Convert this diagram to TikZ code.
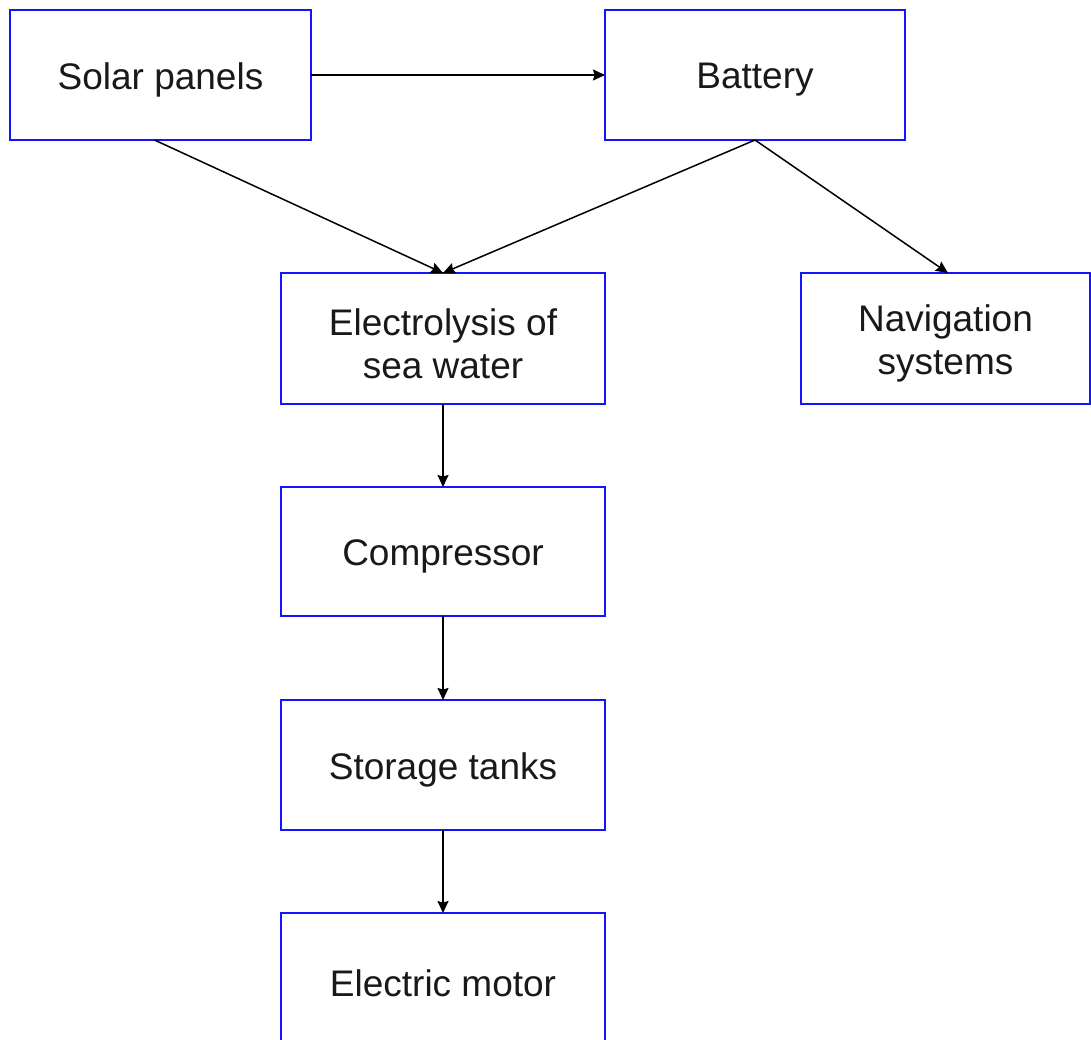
\documentclass[tikz,border=0pt]{standalone}
\usepackage{fontspec}
\setmainfont{Liberation Sans}
\usetikzlibrary{arrows.meta}
\definecolor{boxblue}{RGB}{20,20,255}
\begin{document}
\begin{tikzpicture}[x=1pt,y=-1pt,
  box/.style={draw=boxblue,line width=2pt,fill=white,inner sep=0pt,outer sep=0pt},
  txt/.style={align=center,font=\fontsize{37}{43}\selectfont,text=black!90,yshift=-5pt},
  conn/.style={line width=1.5pt,-{Stealth[length=12pt,width=11pt,inset=1.5pt]}}]
\useasboundingbox (0,0) rectangle (1091,1039);
\begin{scope}
\clip (0,0) rectangle (1091,1039);
\node[box,minimum width=301pt,minimum height=130pt,label={[txt]center:Solar panels}] (sp) at (160.5,75) {};
\node[box,minimum width=300pt,minimum height=130pt,label={[txt]center:Battery}] (bat) at (755,75) {};
\node[box,minimum width=324pt,minimum height=131pt,label={[txt]center:Electrolysis of\\sea water}] (el) at (443,338.5) {};
\node[box,minimum width=289pt,minimum height=131pt,label={[txt]center:Navigation\\systems}] (nav) at (945.5,338.5) {};
\node[box,minimum width=324pt,minimum height=129pt,label={[txt]center:Compressor}] (comp) at (443,551.5) {};
\node[box,minimum width=324pt,minimum height=130pt,label={[txt]center:Storage tanks}] (st) at (443,765) {};
\node[box,minimum width=324pt,minimum height=130pt,label={[txt]center:Electric motor}] (mot) at (443,978) {};
\draw[conn] (sp.east) -- (bat.west);
\draw[conn] ([xshift=-6pt]sp.south) -- (el.north);
\draw[conn] (bat.south) -- (el.north);
\draw[conn] (bat.south) -- ([xshift=2.5pt]nav.north);
\draw[conn] (el.south) -- (comp.north);
\draw[conn] (comp.south) -- (st.north);
\draw[conn] (st.south) -- (mot.north);
\end{scope}
\end{tikzpicture}
\end{document}
